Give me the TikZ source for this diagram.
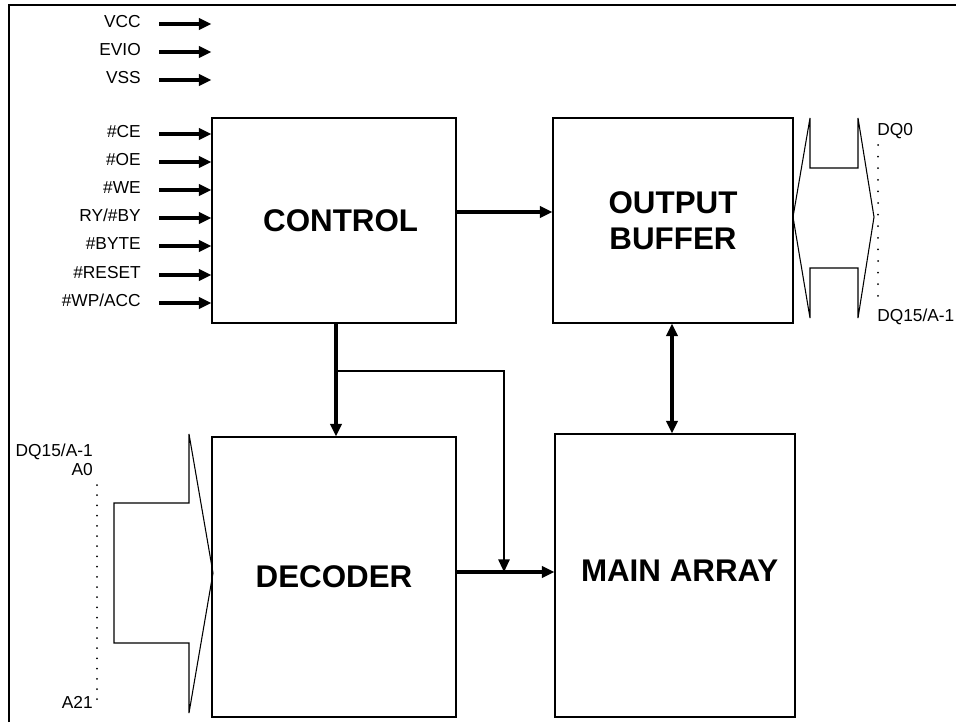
\documentclass[tikz,border=0pt]{standalone}
\usepackage{fontspec}
\setmainfont{Liberation Sans}
\usetikzlibrary{arrows.meta}
\newcommand{\pin}[3]{\node[pinlbl] (#1) at (141,#2) {#3};
	\draw[sig] ([xshift=13.5pt]#1.mid east) -- (#1.mid east -| ctrl.west)}
\newcommand{\buscol}[4]{\foreach \i in {0,...,#4}
	\fill (#1,#2+#3*\i) circle (0.75pt)}

\begin{document}
\begin{tikzpicture}[x=0.75pt,y=-0.75pt,
	rim/.style={line width=2pt},
	sig/.style={line width=2.4pt,-{Triangle[length=9.5pt,width=8.5pt]}},
	thinsig/.style={line width=1.4pt,-{Triangle[length=9.5pt,width=8.5pt]}},
	bus/.style={line width=0.8pt,line join=miter},
	pinlbl/.style={anchor=mid east,inner sep=0pt,font=\fontsize{13}{15}\selectfont},
	blk/.style={draw,line width=0.8pt,inner sep=0pt,align=center,
		font=\bfseries\fontsize{23.5}{27}\selectfont}]
\useasboundingbox (0,0) rectangle (956,722);
%Frame
	\draw[rim] (9,722) -- (9,5) -- (956,5);
%Blocks
	\node[blk,minimum width=183pt,minimum height=153.75pt] (ctrl) at (334,220.5) {\hspace{10pt}CONTROL};
	\node[blk,minimum width=180pt,minimum height=153.75pt] (obuf) at (673,220.5) {OUTPUT\\BUFFER};
	\node[blk,minimum width=183pt,minimum height=210pt] (dec) at (334,577) {DECODER};
	\node[blk,minimum width=180pt,minimum height=212.25pt] (marr) at (675,575.5) {\hspace{7pt}\raisebox{7pt}{MAIN ARRAY}};
%Pins
	\pin{vcc}{24}{VCC};
	\pin{evio}{52}{EVIO};
	\pin{vss}{80}{VSS};
	\pin{ce}{134}{\#CE};
	\pin{oe}{162}{\#OE};
	\pin{we}{190}{\#WE};
	\pin{ryby}{218}{RY/\#BY};
	\pin{byte}{246}{\#BYTE};
	\pin{reset}{275}{\#RESET};
	\pin{wp}{303}{\#WP/ACC};
%Links between blocks
	\draw[sig] ([yshift=6.4pt]ctrl.east) -- ([yshift=6.4pt]ctrl.east -| obuf.west);
	\draw[sig] ([xshift=1.5pt]ctrl.south) -- ([xshift=1.5pt]ctrl.south |- dec.north);
	\draw[sig] ([yshift=3.75pt]dec.east) -- ([yshift=3.75pt]dec.east -| marr.west);
	\coordinate (br) at (336,371);
	\coordinate (jn) at (504,572);
	\draw[thinsig] (br) -- (br -| jn) -- (jn);
	\draw[sig,{Triangle[length=9.5pt,width=8.5pt]}-{Triangle[length=9.5pt,width=8.5pt]}]
		([xshift=-0.75pt]obuf.south) -- ([xshift=-0.75pt]obuf.south |- marr.north);
%Data bus
	\draw[bus] (793,217) -- (810,118) -- (810,168) -- (858,168) -- (858,118) -- (874,217)
		-- (858,318) -- (858,268) -- (810,268) -- (810,318) -- cycle;
	\buscol{878}{145}{11.6}{13};
	\node[pinlbl,anchor=mid west] (dq0) at (877,132) {DQ0};
	\node[pinlbl,anchor=mid west] (dq15) at (877,318) {DQ15/A-1};
%Address bus
	\draw[bus] (189,434) -- (213,573) -- (189,713) -- (189,643) -- (114,643)
		-- (114,503) -- (189,503) -- cycle;
	\buscol{97}{485}{10.2}{21};
	\node[pinlbl] (adq) at (93,453) {DQ15/A-1};
	\node[pinlbl] (a0) at (93,472) {A0};
	\node[pinlbl] (a21) at (93,705) {A21};
\end{tikzpicture}
\end{document}
